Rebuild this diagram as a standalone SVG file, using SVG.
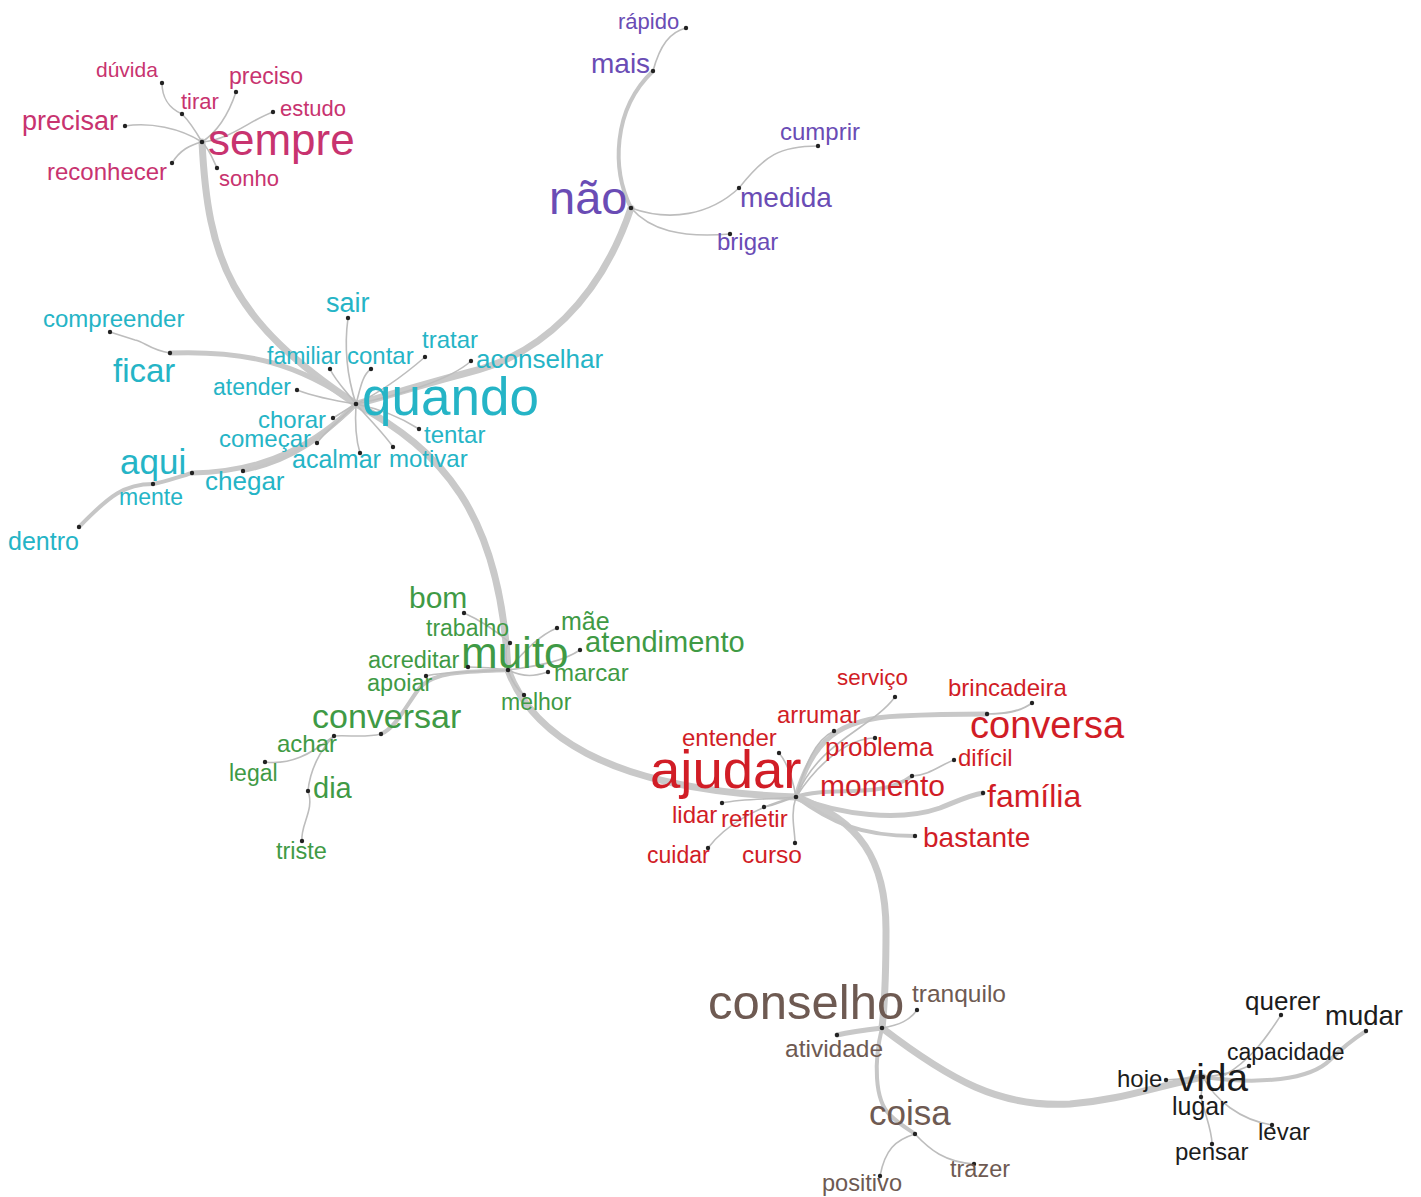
<svg xmlns="http://www.w3.org/2000/svg" width="1421" height="1197" viewBox="0 0 1421 1197">
<style>
text{font-family:"Liberation Sans",Arial,sans-serif}
.pk{fill:#c8336f}.pu{fill:#6a4cb5}.cy{fill:#25b4c6}.gr{fill:#3f9a45}.rd{fill:#d11d26}.br{fill:#6e5a52}.bk{fill:#1c1c1c}
.d{fill:#222}
#connectors path{fill:none;stroke-linecap:round}
.t{stroke:#c9c9c9;stroke-width:7}
.w{stroke:#c8c8c8;stroke-width:5}
.m{stroke:#c6c6c6;stroke-width:4}
.s{stroke:#bdbdbd;stroke-width:1.6}
</style>
<rect width="1421" height="1197" fill="#fff"/>
<g id="connectors">
<path class="t" d="M202,142 C208,260 230,320 356,404"/>
<path class="t" d="M631,208 C600,300 540,355 470,372 C420,385 380,398 356,404"/>
<path class="t" d="M356,404 C440,450 500,510 508,670"/>
<path class="t" d="M508,670 C530,730 600,790 796,797"/>
<path class="t" d="M796,797 C860,820 886,860 886,930 C886,980 884,1010 882,1028"/>
<path class="t" d="M882,1028 C950,1080 1000,1108 1070,1104 C1120,1100 1150,1088 1203,1077"/>
<path class="s" d="M202,142 C180,128 150,122 125,126"/>
<path class="s" d="M202,142 C190,145 180,150 172,163"/>
<path class="s" d="M202,142 C210,150 213,160 217,168"/>
<path class="s" d="M202,142 C230,140 250,120 273,112"/>
<path class="s" d="M202,142 C220,130 230,110 236,92"/>
<path class="s" d="M202,142 C195,130 188,120 182,114"/>
<path class="s" d="M182,114 C168,108 162,96 162,83"/>
<path class="m" d="M631,208 C612,170 612,110 653,71"/>
<path class="s" d="M653,71 C660,45 670,32 686,28"/>
<path class="s" d="M631,208 C670,222 710,215 739,188"/>
<path class="s" d="M739,188 C765,155 780,146 818,146"/>
<path class="s" d="M631,208 C650,230 680,238 730,234"/>
<path class="w" d="M356,404 C300,365 250,350 170,353"/>
<path class="s" d="M170,353 C150,350 145,342 135,340 L110,332"/>
<path class="w" d="M356,404 C320,440 270,472 192,473"/>
<path class="m" d="M192,473 C175,478 165,482 153,484"/>
<path class="m" d="M153,484 C125,484 110,495 79,527"/>
<path class="m" d="M356,404 C320,440 290,462 243,471"/>
<path class="s" d="M356,404 C345,370 345,340 348,318"/>
<path class="s" d="M356,404 C345,390 335,380 330,369"/>
<path class="s" d="M356,404 C360,390 362,375 371,369"/>
<path class="s" d="M356,404 C385,390 410,370 425,357"/>
<path class="s" d="M356,404 C400,395 450,380 471,361"/>
<path class="s" d="M356,404 C330,400 310,395 297,390"/>
<path class="s" d="M356,404 C345,410 340,414 333,418"/>
<path class="s" d="M356,404 C385,410 405,420 419,429"/>
<path class="s" d="M356,404 C340,420 325,432 317,443"/>
<path class="s" d="M356,404 C355,420 356,440 360,453"/>
<path class="s" d="M356,404 C370,420 385,435 393,447"/>
<path class="s" d="M508,670 C505,655 505,645 510,643"/>
<path class="s" d="M510,643 C495,630 480,620 464,613"/>
<path class="s" d="M508,670 C525,650 540,635 557,628"/>
<path class="s" d="M508,670 C545,665 565,660 580,650"/>
<path class="s" d="M508,670 C495,668 480,667 468,667"/>
<path class="s" d="M508,670 C525,678 535,676 548,672"/>
<path class="s" d="M508,670 C512,682 518,690 524,695"/>
<path class="m" d="M508,670 C470,672 432,670 418,690 C405,708 395,728 381,734"/>
<path class="s" d="M508,670 C470,672 440,672 426,676"/>
<path class="s" d="M381,734 C365,738 350,735 334,736"/>
<path class="s" d="M334,736 C310,755 290,765 265,762"/>
<path class="s" d="M334,736 C320,750 310,770 308,791"/>
<path class="s" d="M308,791 C315,810 300,825 302,841"/>
<path class="w" d="M796,797 C812,740 840,718 900,716 C940,714 960,714 987,714"/>
<path class="s" d="M987,714 C1005,714 1020,712 1032,703"/>
<path class="s" d="M796,797 C820,740 870,730 895,697"/>
<path class="s" d="M796,797 C805,765 815,740 834,731"/>
<path class="s" d="M796,797 C820,760 850,738 875,738"/>
<path class="s" d="M796,797 C792,775 785,760 779,753"/>
<path class="m" d="M796,797 C830,785 880,800 912,776"/>
<path class="s" d="M912,776 C930,775 940,765 954,760"/>
<path class="w" d="M796,797 C840,815 900,822 940,808 C960,800 970,795 983,793"/>
<path class="m" d="M796,797 C830,822 860,836 915,836"/>
<path class="s" d="M796,797 C770,800 745,798 722,803"/>
<path class="s" d="M796,797 C785,800 775,805 764,807"/>
<path class="s" d="M796,797 C790,815 795,830 795,843"/>
<path class="s" d="M796,797 C760,805 725,825 708,848"/>
<path class="s" d="M882,1028 C900,1025 910,1020 917,1010"/>
<path class="w" d="M882,1028 C865,1030 850,1032 837,1035"/>
<path class="m" d="M882,1028 C874,1060 874,1100 890,1115 C900,1125 910,1130 915,1134"/>
<path class="s" d="M915,1134 C895,1140 885,1150 880,1176"/>
<path class="s" d="M915,1134 C930,1150 945,1162 974,1164"/>
<path class="s" d="M1166,1080 L1203,1077"/>
<path class="s" d="M1225,1075 C1250,1060 1265,1040 1281,1015"/>
<path class="m" d="M1203,1077 C1260,1085 1310,1080 1330,1060 C1345,1045 1355,1038 1366,1031"/>
<path class="s" d="M1203,1077 C1225,1075 1240,1070 1249,1066"/>
<path class="s" d="M1203,1077 L1201,1097"/>
<path class="s" d="M1201,1097 C1205,1115 1212,1130 1212,1144"/>
<path class="s" d="M1203,1077 C1215,1100 1240,1120 1272,1125"/>
</g>

<g id="sempre"><circle class="d" cx="202" cy="142" r="2.3"/><text class="pk" x="208" y="155" font-size="44">sempre</text></g>
<g id="duvida"><circle class="d" cx="162" cy="83" r="2.2"/><text class="pk" x="96" y="77" font-size="21">dúvida</text></g>
<g id="tirar"><circle class="d" cx="182" cy="114" r="2.2"/><text class="pk" x="181" y="109" font-size="22">tirar</text></g>
<g id="preciso"><circle class="d" cx="236" cy="92" r="2.2"/><text class="pk" x="229" y="84" font-size="23">preciso</text></g>
<g id="estudo"><circle class="d" cx="273" cy="112" r="2.2"/><text class="pk" x="280" y="116" font-size="22">estudo</text></g>
<g id="precisar"><circle class="d" cx="125" cy="126" r="2.2"/><text class="pk" x="22" y="130" font-size="27">precisar</text></g>
<g id="reconhecer"><circle class="d" cx="172" cy="163" r="2.2"/><text class="pk" x="47" y="180" font-size="24">reconhecer</text></g>
<g id="sonho"><circle class="d" cx="217" cy="168" r="2.2"/><text class="pk" x="219" y="186" font-size="22">sonho</text></g>

<g id="nao"><circle class="d" cx="631" cy="208" r="2.3"/><text class="pu" x="549" y="214" font-size="47">não</text></g>
<g id="mais"><circle class="d" cx="653" cy="71" r="2.2"/><text class="pu" x="591" y="73" font-size="28">mais</text></g>
<g id="rapido"><circle class="d" cx="686" cy="28" r="2.2"/><text class="pu" x="618" y="29" font-size="22">rápido</text></g>
<g id="medida"><circle class="d" cx="739" cy="188" r="2.2"/><text class="pu" x="740" y="207" font-size="28">medida</text></g>
<g id="cumprir"><circle class="d" cx="818" cy="146" r="2.2"/><text class="pu" x="780" y="140" font-size="24">cumprir</text></g>
<g id="brigar"><circle class="d" cx="730" cy="234" r="2.2"/><text class="pu" x="717" y="250" font-size="24">brigar</text></g>

<g id="quando"><circle class="d" cx="356" cy="404" r="2.3"/><text class="cy" x="362" y="415" font-size="53">quando</text></g>
<g id="sair"><circle class="d" cx="348" cy="318" r="2.2"/><text class="cy" x="326" y="312" font-size="27">sair</text></g>
<g id="compreender"><circle class="d" cx="110" cy="332" r="2.2"/><text class="cy" x="43" y="327" font-size="24">compreender</text></g>
<g id="ficar"><circle class="d" cx="170" cy="353" r="2.2"/><text class="cy" x="113" y="382" font-size="33">ficar</text></g>
<g id="familiar"><circle class="d" cx="330" cy="369" r="2.2"/><text class="cy" x="267" y="364" font-size="23">familiar</text></g>
<g id="contar"><circle class="d" cx="371" cy="369" r="2.2"/><text class="cy" x="347" y="364" font-size="24">contar</text></g>
<g id="tratar"><circle class="d" cx="425" cy="357" r="2.2"/><text class="cy" x="422" y="348" font-size="24">tratar</text></g>
<g id="aconselhar"><circle class="d" cx="471" cy="361" r="2.2"/><text class="cy" x="476" y="368" font-size="26">aconselhar</text></g>
<g id="atender"><circle class="d" cx="297" cy="390" r="2.2"/><text class="cy" x="213" y="395" font-size="23">atender</text></g>
<g id="chorar"><circle class="d" cx="333" cy="418" r="2.2"/><text class="cy" x="258" y="428" font-size="24">chorar</text></g>
<g id="tentar"><circle class="d" cx="419" cy="429" r="2.2"/><text class="cy" x="424" y="443" font-size="24">tentar</text></g>
<g id="comecar"><circle class="d" cx="317" cy="443" r="2.2"/><text class="cy" x="219" y="447" font-size="24">começar</text></g>
<g id="acalmar"><circle class="d" cx="360" cy="453" r="2.2"/><text class="cy" x="292" y="468" font-size="25">acalmar</text></g>
<g id="motivar"><circle class="d" cx="393" cy="447" r="2.2"/><text class="cy" x="389" y="467" font-size="24">motivar</text></g>
<g id="aqui"><circle class="d" cx="192" cy="473" r="2.2"/><text class="cy" x="120" y="474" font-size="35">aqui</text></g>
<g id="chegar"><circle class="d" cx="243" cy="471" r="2.2"/><text class="cy" x="205" y="490" font-size="26">chegar</text></g>
<g id="mente"><circle class="d" cx="153" cy="484" r="2.2"/><text class="cy" x="119" y="505" font-size="23">mente</text></g>
<g id="dentro"><circle class="d" cx="79" cy="527" r="2.2"/><text class="cy" x="8" y="550" font-size="25">dentro</text></g>

<g id="muito"><circle class="d" cx="508" cy="670" r="2.3"/><text class="gr" x="461" y="668" font-size="44">muito</text></g>
<g id="bom"><circle class="d" cx="464" cy="613" r="2.2"/><text class="gr" x="409" y="608" font-size="30">bom</text></g>
<g id="trabalho"><circle class="d" cx="510" cy="643" r="2.2"/><text class="gr" x="426" y="636" font-size="23">trabalho</text></g>
<g id="mae"><circle class="d" cx="557" cy="628" r="2.2"/><text class="gr" x="561" y="630" font-size="25">mãe</text></g>
<g id="atendimento"><circle class="d" cx="580" cy="650" r="2.2"/><text class="gr" x="585" y="652" font-size="29">atendimento</text></g>
<g id="acreditar"><circle class="d" cx="468" cy="667" r="2.2"/><text class="gr" x="368" y="668" font-size="23.5">acreditar</text></g>
<g id="marcar"><circle class="d" cx="548" cy="672" r="2.2"/><text class="gr" x="554" y="681" font-size="24">marcar</text></g>
<g id="apoiar"><circle class="d" cx="426" cy="676" r="2.2"/><text class="gr" x="367" y="691" font-size="23.5">apoiar</text></g>
<g id="melhor"><circle class="d" cx="524" cy="695" r="2.2"/><text class="gr" x="501" y="710" font-size="23">melhor</text></g>
<g id="conversar"><circle class="d" cx="381" cy="734" r="2.2"/><text class="gr" x="312" y="728" font-size="34">conversar</text></g>
<g id="achar"><circle class="d" cx="334" cy="736" r="2.2"/><text class="gr" x="277" y="752" font-size="24">achar</text></g>
<g id="legal"><circle class="d" cx="265" cy="762" r="2.2"/><text class="gr" x="229" y="781" font-size="23">legal</text></g>
<g id="dia"><circle class="d" cx="308" cy="791" r="2.2"/><text class="gr" x="313" y="798" font-size="29">dia</text></g>
<g id="triste"><circle class="d" cx="302" cy="841" r="2.2"/><text class="gr" x="276" y="859" font-size="23.5">triste</text></g>

<g id="ajudar"><circle class="d" cx="796" cy="797" r="2.3"/><text class="rd" x="650" y="788" font-size="54.5">ajudar</text></g>
<g id="servico"><circle class="d" cx="895" cy="697" r="2.2"/><text class="rd" x="837" y="685" font-size="22.4">serviço</text></g>
<g id="brincadeira"><circle class="d" cx="1032" cy="703" r="2.2"/><text class="rd" x="948" y="696" font-size="24">brincadeira</text></g>
<g id="arrumar"><circle class="d" cx="834" cy="731" r="2.2"/><text class="rd" x="777" y="723" font-size="23.8">arrumar</text></g>
<g id="conversa"><circle class="d" cx="987" cy="714" r="2.2"/><text class="rd" x="970" y="738" font-size="38">conversa</text></g>
<g id="entender"><circle class="d" cx="779" cy="753" r="2.2"/><text class="rd" x="682" y="746" font-size="24">entender</text></g>
<g id="problema"><circle class="d" cx="875" cy="738" r="2.2"/><text class="rd" x="825" y="756" font-size="26">problema</text></g>
<g id="dificil"><circle class="d" cx="954" cy="760" r="2.2"/><text class="rd" x="958" y="766" font-size="24">difícil</text></g>
<g id="momento"><circle class="d" cx="912" cy="776" r="2.2"/><text class="rd" x="820" y="796" font-size="30">momento</text></g>
<g id="familia"><circle class="d" cx="983" cy="793" r="2.2"/><text class="rd" x="987" y="807" font-size="32">família</text></g>
<g id="lidar"><circle class="d" cx="722" cy="803" r="2.2"/><text class="rd" x="672" y="823" font-size="24">lidar</text></g>
<g id="refletir"><circle class="d" cx="764" cy="807" r="2.2"/><text class="rd" x="721" y="827" font-size="24">refletir</text></g>
<g id="bastante"><circle class="d" cx="915" cy="836" r="2.2"/><text class="rd" x="923" y="847" font-size="28">bastante</text></g>
<g id="cuidar"><circle class="d" cx="708" cy="848" r="2.2"/><text class="rd" x="647" y="863" font-size="23">cuidar</text></g>
<g id="curso"><circle class="d" cx="795" cy="843" r="2.2"/><text class="rd" x="742" y="863" font-size="24.5">curso</text></g>

<g id="conselho"><circle class="d" cx="882" cy="1028" r="2.3"/><text class="br" x="708" y="1019" font-size="49">conselho</text></g>
<g id="tranquilo"><circle class="d" cx="917" cy="1010" r="2.2"/><text class="br" x="912" y="1002" font-size="24.5">tranquilo</text></g>
<g id="atividade"><circle class="d" cx="837" cy="1035" r="2.2"/><text class="br" x="785" y="1057" font-size="24.5">atividade</text></g>
<g id="coisa"><circle class="d" cx="915" cy="1134" r="2.2"/><text class="br" x="869" y="1125" font-size="35">coisa</text></g>
<g id="positivo"><circle class="d" cx="880" cy="1176" r="2.2"/><text class="br" x="822" y="1191" font-size="23.6">positivo</text></g>
<g id="trazer"><circle class="d" cx="974" cy="1164" r="2.2"/><text class="br" x="950" y="1177" font-size="23.5">trazer</text></g>

<g id="vida"><circle class="d" cx="1203" cy="1077" r="2.2"/><text class="bk" x="1177" y="1091" font-size="38.7">vida</text></g>
<g id="hoje"><circle class="d" cx="1166" cy="1080" r="2.2"/><text class="bk" x="1117" y="1087" font-size="24">hoje</text></g>
<g id="querer"><circle class="d" cx="1281" cy="1015" r="2.2"/><text class="bk" x="1245" y="1010" font-size="26">querer</text></g>
<g id="mudar"><circle class="d" cx="1366" cy="1031" r="2.2"/><text class="bk" x="1325" y="1025" font-size="27.5">mudar</text></g>
<g id="capacidade"><circle class="d" cx="1249" cy="1066" r="2.2"/><text class="bk" x="1227" y="1060" font-size="23">capacidade</text></g>
<g id="lugar"><circle class="d" cx="1201" cy="1097" r="2.2"/><text class="bk" x="1172" y="1115" font-size="25">lugar</text></g>
<g id="levar"><circle class="d" cx="1272" cy="1125" r="2.2"/><text class="bk" x="1258" y="1140" font-size="24">levar</text></g>
<g id="pensar"><circle class="d" cx="1212" cy="1144" r="2.2"/><text class="bk" x="1175" y="1160" font-size="24">pensar</text></g>
</svg>
